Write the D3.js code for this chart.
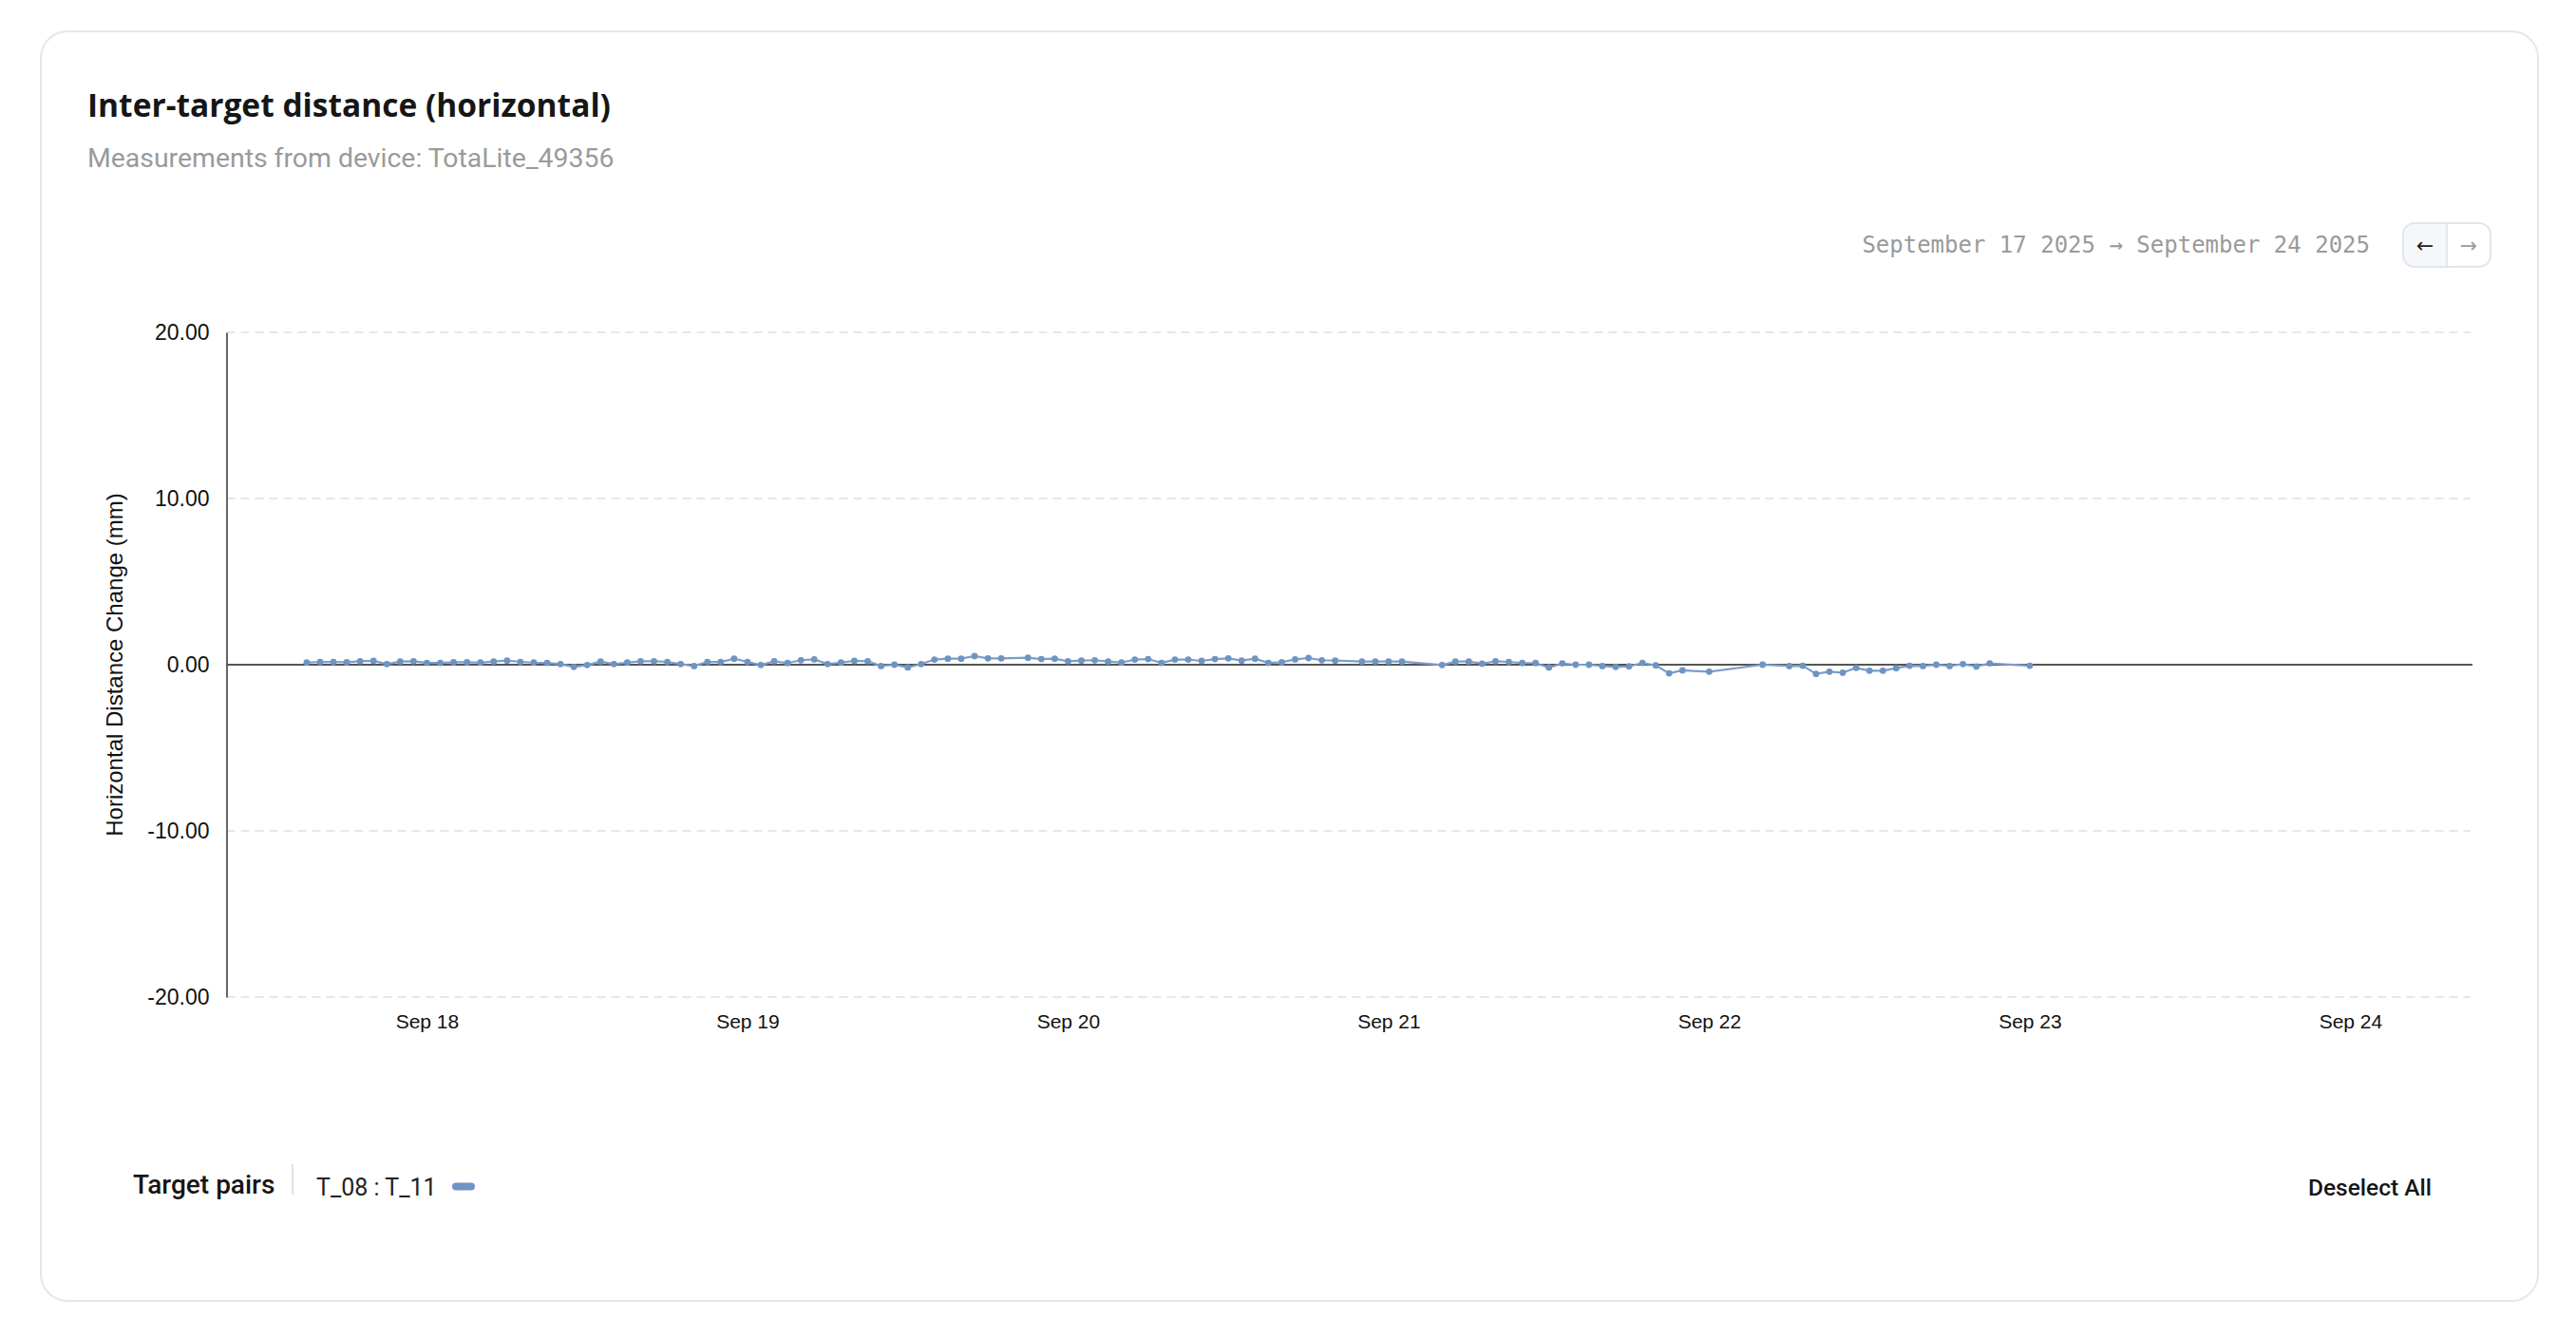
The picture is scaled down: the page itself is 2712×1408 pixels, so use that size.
<!DOCTYPE html>
<html>
<head>
<meta charset="utf-8">
<script src="https://cdn.jsdelivr.net/npm/d3@7"></script>
<style>
  body { margin: 0; background: #fff; }
  svg { display: block; }
  .tick text { fill: #111; }
</style>
</head>
<body>
<script>
var W = 2712, H = 1408;

// readings, one per hour (gaps are missing readings)
var timestamps = [
  "2025-09-17 15:00","2025-09-17 16:00","2025-09-17 17:00","2025-09-17 18:00","2025-09-17 19:00","2025-09-17 20:00",
  "2025-09-17 21:00","2025-09-17 22:00","2025-09-17 23:00",
  "2025-09-18 00:00","2025-09-18 01:00","2025-09-18 02:00","2025-09-18 03:00","2025-09-18 04:00","2025-09-18 05:00",
  "2025-09-18 06:00","2025-09-18 07:00","2025-09-18 08:00","2025-09-18 09:00","2025-09-18 10:00","2025-09-18 11:00",
  "2025-09-18 12:00","2025-09-18 13:00","2025-09-18 14:00","2025-09-18 15:00","2025-09-18 16:00","2025-09-18 17:00",
  "2025-09-18 18:00","2025-09-18 19:00","2025-09-18 20:00","2025-09-18 21:00","2025-09-18 22:00","2025-09-18 23:00",
  "2025-09-19 00:00","2025-09-19 01:00","2025-09-19 02:00","2025-09-19 03:00","2025-09-19 04:00","2025-09-19 05:00",
  "2025-09-19 06:00","2025-09-19 07:00","2025-09-19 08:00","2025-09-19 09:00","2025-09-19 10:00","2025-09-19 11:00",
  "2025-09-19 12:00","2025-09-19 13:00","2025-09-19 14:00","2025-09-19 15:00","2025-09-19 16:00","2025-09-19 17:00",
  "2025-09-19 18:00","2025-09-19 19:00","2025-09-19 21:00","2025-09-19 22:00","2025-09-19 23:00",
  "2025-09-20 00:00","2025-09-20 01:00","2025-09-20 02:00","2025-09-20 03:00","2025-09-20 04:00","2025-09-20 05:00",
  "2025-09-20 06:00","2025-09-20 07:00","2025-09-20 08:00","2025-09-20 09:00","2025-09-20 10:00","2025-09-20 11:00",
  "2025-09-20 12:00","2025-09-20 13:00","2025-09-20 14:00","2025-09-20 15:00","2025-09-20 16:00","2025-09-20 17:00",
  "2025-09-20 18:00","2025-09-20 19:00","2025-09-20 20:00","2025-09-20 22:00","2025-09-20 23:00",
  "2025-09-21 00:00","2025-09-21 01:00","2025-09-21 04:00","2025-09-21 05:00","2025-09-21 06:00","2025-09-21 07:00",
  "2025-09-21 08:00","2025-09-21 09:00","2025-09-21 10:00","2025-09-21 11:00","2025-09-21 12:00","2025-09-21 13:00",
  "2025-09-21 14:00","2025-09-21 15:00","2025-09-21 16:00","2025-09-21 17:00","2025-09-21 18:00","2025-09-21 19:00",
  "2025-09-21 20:00","2025-09-21 21:00","2025-09-21 22:00",
  "2025-09-22 00:00","2025-09-22 04:00","2025-09-22 06:00","2025-09-22 07:00","2025-09-22 08:00","2025-09-22 09:00",
  "2025-09-22 10:00","2025-09-22 11:00","2025-09-22 12:00","2025-09-22 13:00","2025-09-22 14:00","2025-09-22 15:00",
  "2025-09-22 16:00","2025-09-22 17:00","2025-09-22 18:00","2025-09-22 19:00","2025-09-22 20:00","2025-09-22 21:00",
  "2025-09-23 00:00"
];

// T_08 : T_11 horizontal distance change, mm
var values = [
  0.13, 0.17, 0.17, 0.15, 0.21, 0.23, 0.04, 0.19, 0.21,
  0.11, 0.11, 0.15, 0.15, 0.13, 0.19, 0.25, 0.17, 0.13, 0.11, 0.04, -0.13,
  -0.02, 0.19, 0.04, 0.13, 0.21, 0.21, 0.17, 0.04, -0.08, 0.17, 0.17, 0.36,
  0.17, -0.02, 0.21, 0.10, 0.27, 0.32, 0.04, 0.13, 0.23, 0.21, -0.08, 0.00,
  -0.17, 0.04, 0.31, 0.36, 0.36, 0.52, 0.38, 0.38, 0.42, 0.34, 0.36,
  0.21, 0.25, 0.27, 0.19, 0.13, 0.31, 0.34, 0.11, 0.31, 0.31, 0.23, 0.34,
  0.38, 0.25, 0.36, 0.11, 0.15, 0.32, 0.40, 0.27, 0.25, 0.19, 0.19,
  0.19, 0.19, -0.02, 0.19, 0.19, 0.06, 0.21, 0.17, 0.10, 0.10, -0.17, 0.08,
  0.00, 0.00, -0.08, -0.13, -0.10, 0.11, -0.04, -0.52, -0.34,
  -0.42, 0.00, -0.08, -0.06, -0.55, -0.42, -0.48, -0.19, -0.36, -0.36, -0.21, -0.06,
  -0.08, 0.00, -0.08, 0.04, -0.11, 0.08,
  -0.06
];

var yTicks = [-20, -10, 0, 10, 20];
var xTicks = ["2025-09-18", "2025-09-19", "2025-09-20", "2025-09-21", "2025-09-22", "2025-09-23", "2025-09-24"];
var xDomain = ["2025-09-17 09:00", "2025-09-24 09:00"];

var parseT = d3.timeParse("%Y-%m-%d %H:%M");
var parseD = d3.timeParse("%Y-%m-%d");
var fmt2 = d3.formatLocale({decimal: ".", thousands: ",", grouping: [3], currency: ["", ""], minus: "-"}).format(".2f");

var points = timestamps.map(function(t, i) { return {t: parseT(t), v: values[i]}; });

var svg = d3.select("body").append("svg")
  .attr("width", W).attr("height", H);

// card
svg.append("rect")
  .attr("x", 43).attr("y", 33)
  .attr("width", 2629).attr("height", 1337)
  .attr("rx", 28)
  .attr("fill", "#fff")
  .attr("stroke", "#e3e7f0")
  .attr("stroke-width", 2);

svg.append("text")
  .attr("x", 92).attr("y", 123)
  .style("font-family", "'Open Sans', sans-serif")
  .style("font-weight", 700)
  .style("font-size", "33.5px")
  .attr("fill", "#161616")
  .text("Inter-target distance (horizontal)");

svg.append("text")
  .attr("x", 92).attr("y", 176)
  .style("font-family", "Roboto, sans-serif")
  .style("font-size", "28.4px")
  .attr("fill", "#9a9a9a")
  .text("Measurements from device: TotaLite_49356");

// date range + nav buttons
svg.append("text")
  .attr("x", 2495).attr("y", 266)
  .attr("text-anchor", "end")
  .style("font-family", "'DejaVu Sans Mono', monospace")
  .style("font-size", "24px")
  .attr("fill", "#9a9a9a")
  .text("September 17 2025 \u2192 September 24 2025");

var nav = svg.append("g");
nav.append("path")
  .attr("d", "M2576,235 H2542 Q2530,235 2530,247 V269 Q2530,281 2542,281 H2576 Z")
  .attr("fill", "#f6f7f9");
nav.append("rect")
  .attr("x", 2530).attr("y", 235).attr("width", 92).attr("height", 46)
  .attr("rx", 12)
  .attr("fill", "none").attr("stroke", "#e2e6ee").attr("stroke-width", 2);
nav.append("line")
  .attr("x1", 2576).attr("x2", 2576).attr("y1", 235).attr("y2", 281)
  .attr("stroke", "#e2e6ee").attr("stroke-width", 2);
nav.append("text")
  .attr("x", 2553).attr("y", 266).attr("text-anchor", "middle")
  .style("font-family", "'DejaVu Sans', sans-serif").style("font-size", "22px")
  .attr("fill", "#222").text("\u2190");
nav.append("text")
  .attr("x", 2599).attr("y", 266).attr("text-anchor", "middle")
  .style("font-family", "'DejaVu Sans', sans-serif").style("font-size", "22px")
  .attr("fill", "#9a9a9a").text("\u2192");

// scales
var x = d3.scaleTime()
  .domain(xDomain.map(parseT))
  .range([238.5, 2601]);

var y = d3.scaleLinear()
  .domain([-20, 20])
  .range([1050, 350]);

var plot = svg.append("g");

// grid
plot.selectAll(".grid")
  .data(yTicks.filter(function(d) { return d !== 0; }))
  .enter().append("line")
  .attr("x1", x.range()[0]).attr("x2", x.range()[1])
  .attr("y1", function(d) { return y(d); })
  .attr("y2", function(d) { return y(d); })
  .attr("stroke", "#e3e7ee")
  .attr("stroke-width", 2)
  .attr("stroke-dasharray", "9,6");

// y axis
var yAxis = plot.append("g")
  .attr("transform", "translate(" + x.range()[0] + ",0)")
  .call(d3.axisLeft(y).tickValues(yTicks).tickSize(0).tickSizeOuter(0).tickPadding(18).tickFormat(fmt2));
yAxis.select(".domain").attr("stroke", "#666").attr("stroke-width", 2);
yAxis.selectAll("text")
  .style("font-family", "'Liberation Sans', Arial, sans-serif")
  .style("font-size", "23px");

// x axis
var xAxis = plot.append("g")
  .attr("transform", "translate(0," + y(-20) + ")")
  .call(d3.axisBottom(x).tickValues(xTicks.map(parseD)).tickSize(0).tickPadding(18).tickFormat(d3.timeFormat("%b %d")));
xAxis.select(".domain").remove();
xAxis.selectAll("text")
  .style("font-family", "'Liberation Sans', Arial, sans-serif")
  .style("font-size", "21px");

// zero line
plot.append("line")
  .attr("x1", x.range()[0]).attr("x2", x.range()[1] + 2)
  .attr("y1", y(0)).attr("y2", y(0))
  .attr("stroke", "#555").attr("stroke-width", 2);

svg.append("text")
  .attr("transform", "translate(121," + y(0) + ") rotate(-90)")
  .attr("text-anchor", "middle")
  .attr("dy", "0.35em")
  .style("font-family", "'Liberation Sans', Arial, sans-serif")
  .style("font-size", "24px")
  .attr("fill", "#111")
  .text("Horizontal Distance Change (mm)");

// series
var line = d3.line()
  .x(function(d) { return x(d.t); })
  .y(function(d) { return y(d.v); });

plot.append("path")
  .datum(points)
  .attr("d", line)
  .attr("fill", "none")
  .attr("stroke", "#7c9dc9")
  .attr("stroke-width", 2.2);

plot.selectAll(".pt")
  .data(points)
  .enter().append("circle")
  .attr("cx", function(d) { return x(d.t); })
  .attr("cy", function(d) { return y(d.v); })
  .attr("r", 3.4)
  .attr("fill", "#6f94c3");

// legend
svg.append("text")
  .attr("x", 140).attr("y", 1257)
  .style("font-family", "Roboto, sans-serif")
  .style("font-weight", 500)
  .style("font-size", "28px")
  .attr("fill", "#161616")
  .text("Target pairs");

svg.append("line")
  .attr("x1", 308).attr("x2", 308).attr("y1", 1226).attr("y2", 1258)
  .attr("stroke", "#dde2ec").attr("stroke-width", 2);

svg.append("text")
  .attr("x", 333).attr("y", 1259)
  .style("font-family", "Roboto, sans-serif")
  .style("font-size", "25px")
  .attr("fill", "#222")
  .text("T_08 : T_11");

svg.append("rect")
  .attr("x", 476).attr("y", 1245.5).attr("width", 24).attr("height", 8)
  .attr("rx", 4)
  .attr("fill", "#6f94c3");

svg.append("text")
  .attr("x", 2560).attr("y", 1259)
  .attr("text-anchor", "end")
  .style("font-family", "Roboto, sans-serif")
  .style("font-weight", 500)
  .style("font-size", "24.5px")
  .attr("fill", "#161616")
  .text("Deselect All");
</script>
</body>
</html>
